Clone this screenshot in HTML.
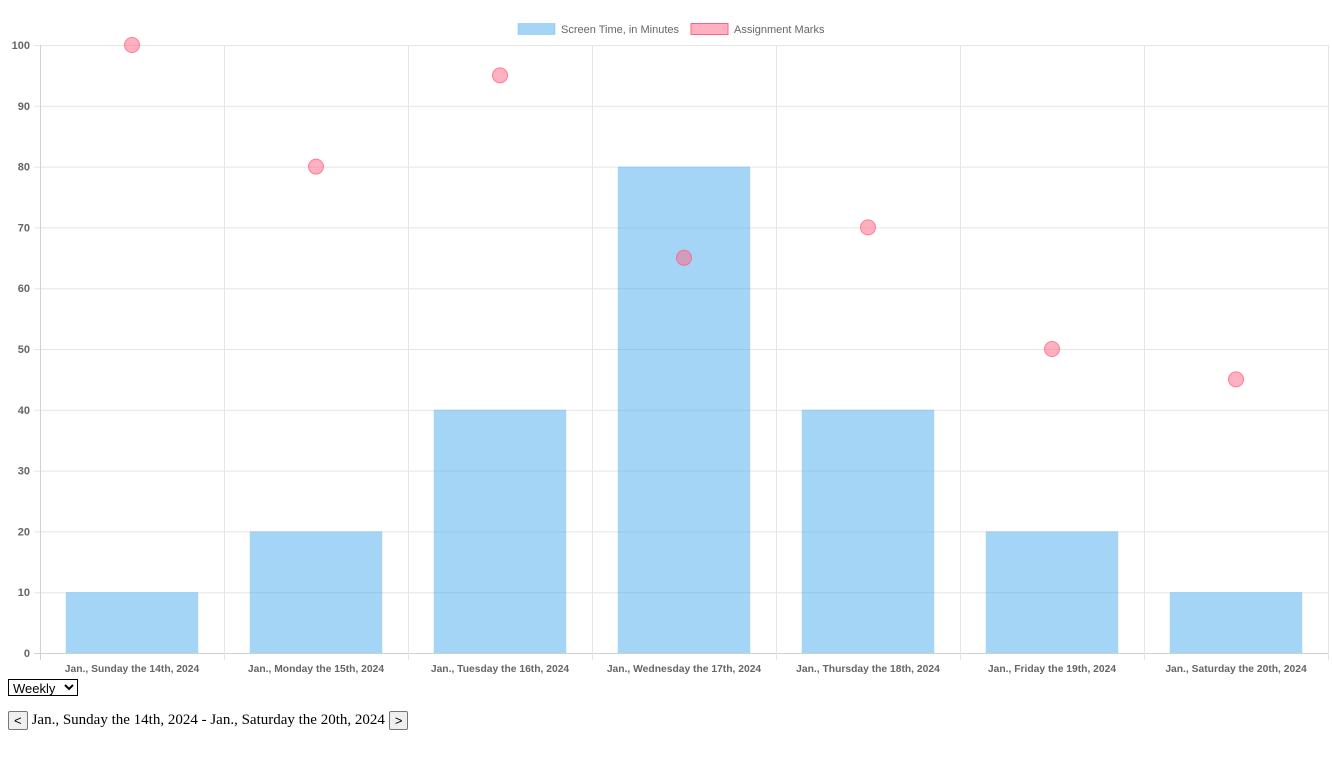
<!DOCTYPE html>
<html><head><meta charset="utf-8"><style>
body{margin:0;width:1332px;height:761px;overflow:hidden;background:#fff;font-family:"Liberation Serif",serif;}
svg text{font-family:"Liberation Sans",sans-serif;}
#ctrl{position:absolute;left:8px;top:679px;}
select{font-family:"Liberation Sans",sans-serif;font-size:13px;height:17px;width:70px;padding:0;border:1px solid #000;border-radius:0;background:#fff;}
#nav{position:absolute;left:8px;top:711px;font-size:15px;display:flex;align-items:center;gap:4px;}
button{font-family:"Liberation Sans",sans-serif;font-size:13px;height:19px;padding:0 5px;border:1px solid #767676;background:#efefef;border-radius:2px;}
</style></head><body>
<svg id="chart" width="1332" height="676" style="position:absolute;left:0;top:0"></svg>
<div id="ctrl"><select><option>Weekly</option></select></div>
<div id="nav"><button>&lt;</button><span>Jan., Sunday the 14th, 2024 - Jan., Saturday the 20th, 2024</span><button>&gt;</button></div>
<script>
const categories=["Jan., Sunday the 14th, 2024","Jan., Monday the 15th, 2024","Jan., Tuesday the 16th, 2024","Jan., Wednesday the 17th, 2024","Jan., Thursday the 18th, 2024","Jan., Friday the 19th, 2024","Jan., Saturday the 20th, 2024"];
const screenTime=[10,20,40,80,40,20,10];
const marks=[100,80,95,65,70,50,45];
const yTicks=[0,10,20,30,40,50,60,70,80,90,100];
const legendLabels=["Screen Time, in Minutes","Assignment Marks"];
const NS="http://www.w3.org/2000/svg";
const svg=document.getElementById('chart');
const L=40,R=1328,T=45,B=653,yMax=100;
const cw=(R-L)/categories.length;
const y=v=>B-(v/yMax)*(B-T);
const xc=i=>L+cw*(i+0.5);
function mk(t,a,p){const e=document.createElementNS(NS,t);for(const k in a)e.setAttribute(k,a[k]);(p||svg).appendChild(e);return e;}
yTicks.forEach(v=>{
  const g=mk('line',{x1:L-6,x2:R,y1:y(v)+0.5,y2:y(v)+0.5,stroke:v===0?'#d0d0d0':'#e5e5e5'});
  
  
  const t=mk('text',{x:L-10,y:y(v)+4,'text-anchor':'end','font-size':11,fill:'#666','font-weight':'bold'});t.textContent=v;
  
  
});
for(let i=0;i<=categories.length;i++){
  const g=mk('line',{x1:L+cw*i+0.5,x2:L+cw*i+0.5,y1:T,y2:B+7,stroke:i===0?'#d0d0d0':'#e5e5e5'});
  
  
}
categories.forEach((c,i)=>{
  const t=mk('text',{x:xc(i),y:B+19,'text-anchor':'middle','font-size':10.3,fill:'#666','font-weight':'bold'});t.textContent=c;
  
  
});
const bw=cw*0.72;
screenTime.forEach((v,i)=>{
  const r=mk('rect',{x:xc(i)-bw/2,y:y(v),width:bw,height:B-y(v),fill:'rgba(54,162,235,0.45)'});
  
  
});
marks.forEach((v,i)=>{
  const c=mk('circle',{cx:xc(i),cy:y(v),r:7.5,fill:'rgba(255,99,132,0.5)',stroke:'rgba(255,99,132,0.8)','stroke-width':1});
  
  
});
const lg=mk('g',{});


const b1=mk('rect',{x:518,y:23.5,width:37,height:11,fill:'rgba(54,162,235,0.45)',stroke:'rgba(54,162,235,0.3)'},lg);


const t1=mk('text',{x:561,y:33,'font-size':11,fill:'#666'},lg);t1.textContent=legendLabels[0];


const b2=mk('rect',{x:691,y:23.5,width:37,height:11,fill:'rgba(255,99,132,0.5)',stroke:'#ff6384'},lg);


const t2=mk('text',{x:734,y:33,'font-size':11,fill:'#666'},lg);t2.textContent=legendLabels[1];


</script>
</body></html>
